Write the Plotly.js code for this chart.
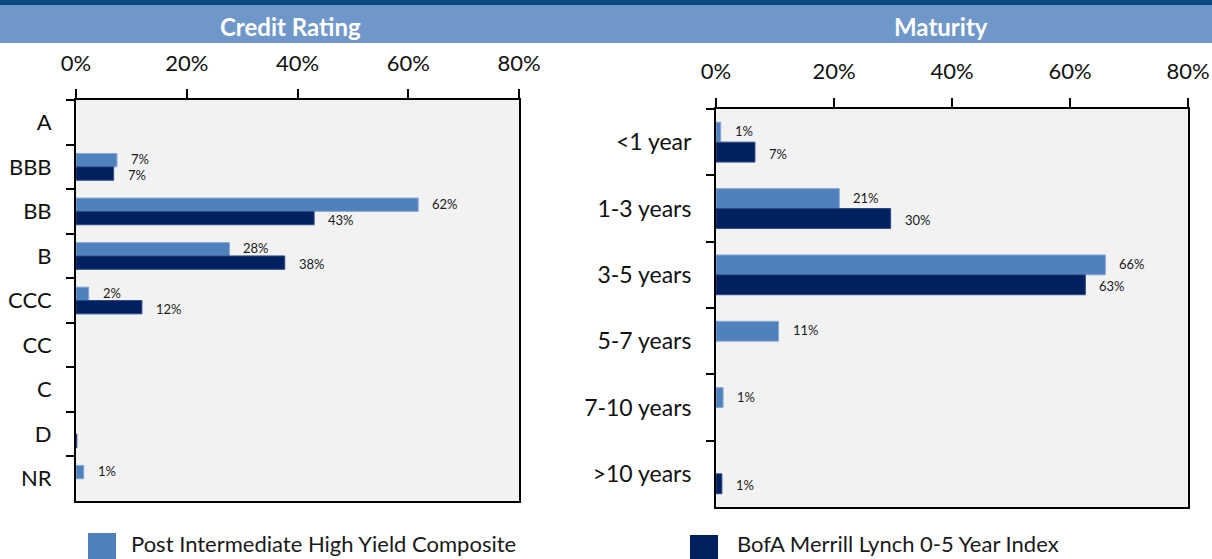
<!DOCTYPE html>
<html>
<head>
<meta charset="utf-8">
<script src="https://cdn.plot.ly/plotly-3.0.1.min.js"></script>
<style>html,body{margin:0;padding:0;background:#fff;}#chart{width:1212px;height:559px;}</style>
</head>
<body>
<div id="chart"></div>
<script>
// ---- Data ----
const ratingCategories = ['A', 'BBB', 'BB', 'B', 'CCC', 'CC', 'C', 'D', 'NR'];
const ratingPost = [null, 7.4, 61.8, 27.7, 2.3, null, null, null, 1.4];
const ratingBofA = [null, 6.8, 43.0, 37.7, 11.9, null, null, 0.15, null];

const maturityCategories = ['<1 year', '1-3 years', '3-5 years', '5-7 years', '7-10 years', '>10 years'];
const maturityPost = [0.8, 20.9, 66.0, 10.6, 1.2, null];
const maturityBofA = [6.6, 29.6, 62.6, null, null, 1.0];

const xTickValues = [0, 20, 40, 60, 80];
const xTickLabels = ['0%', '20%', '40%', '60%', '80%'];

const seriesNames = ['Post Intermediate High Yield Composite', 'BofA Merrill Lynch 0-5 Year Index'];
const panelTitles = ['Credit Rating', 'Maturity'];

// ---- Helpers ----
const LIGHT = '#4f81bd', DARK = '#002060';
const FONT = 'Lato, "Noto Sans", sans-serif';
const W = 1212, H = 559;
const BARGAP = 0.4;
const px = v => v / W;
const py = v => 1 - v / H;

function barTrace(cats, vals, color, lineColor, xa, ya, name) {
  return {
    type: 'bar', orientation: 'h', y: cats, x: vals, name: name,
    xaxis: xa, yaxis: ya,
    marker: {color: color, line: {color: lineColor, width: 1}},
    hoverinfo: 'x+y', showlegend: false
  };
}

// value labels placed next to each bar end (light bar above, dark bar below within a group)
function valueLabels(vals, xa, ya, groupIndex) {
  const half = (1 - BARGAP) / 4; // half of one bar's thickness in category units
  const off = groupIndex === 0 ? -half : half;
  const out = [];
  vals.forEach((v, i) => {
    if (v == null || v < 0.5) return;
    out.push({
      text: Math.round(v) + '%', xref: xa, yref: ya, x: v, y: i + off,
      xanchor: 'left', yanchor: 'middle', xshift: 12, yshift: groupIndex === 0 ? 1 : -1.5,
      showarrow: false, font: {family: FONT, size: 13, color: '#1a1a1a'}
    });
  });
  return out;
}

const data = [
  barTrace(ratingCategories, ratingPost, LIGHT, '#8aaad6', 'x', 'y', seriesNames[0]),
  barTrace(ratingCategories, ratingBofA, DARK, '#2c4a85', 'x', 'y', seriesNames[1]),
  barTrace(maturityCategories, maturityPost, LIGHT, '#8aaad6', 'x2', 'y2', seriesNames[0]),
  barTrace(maturityCategories, maturityBofA, DARK, '#2c4a85', 'x2', 'y2', seriesNames[1])
];

function xAxis(domain, anchor, standoff) {
  return {
    domain: domain, anchor: anchor, side: 'top', range: [0, 80],
    tickvals: xTickValues, ticktext: xTickLabels,
    ticks: 'outside', ticklen: 9, tickwidth: 2, tickcolor: '#000',
    showline: true, linecolor: '#000', linewidth: 2, mirror: true,
    showgrid: false, zeroline: false, fixedrange: true,
    ticklabelstandoff: standoff, ticklabeloverflow: 'allow',
    tickfont: {family: FONT, size: 22, color: '#111'}
  };
}
function yAxis(domain, anchor, standoff, size, cats) {
  return {
    domain: domain, anchor: anchor, type: 'category',
    categoryorder: 'array', categoryarray: cats,
    range: [cats.length - 0.5, -0.5],
    ticks: 'outside', tickson: 'boundaries', ticklen: 8, tickwidth: 2, tickcolor: '#000',
    showline: true, linecolor: '#000', linewidth: 2, mirror: true,
    showgrid: false, zeroline: false, fixedrange: true,
    ticklabelstandoff: standoff,
    tickfont: {family: FONT, size: size, color: '#111'}
  };
}

const annotations = [
  {text: '<b>' + panelTitles[0] + '</b>', xref: 'paper', yref: 'paper', x: px(290), y: py(27), showarrow: false, xanchor: 'center', yanchor: 'middle', font: {family: FONT, size: 24, color: '#ffffff'}},
  {text: '<b>' + panelTitles[1] + '</b>', xref: 'paper', yref: 'paper', x: px(941), y: py(27), showarrow: false, xanchor: 'center', yanchor: 'middle', font: {family: FONT, size: 24, color: '#ffffff'}},
  {text: seriesNames[0], xref: 'paper', yref: 'paper', x: px(129), y: 0, showarrow: false, xanchor: 'left', yanchor: 'bottom', font: {family: FONT, size: 22, color: '#1a1a1a'}},
  {text: seriesNames[1], xref: 'paper', yref: 'paper', x: px(735), y: 0, showarrow: false, xanchor: 'left', yanchor: 'bottom', font: {family: FONT, size: 22, color: '#1a1a1a'}}
].concat(
  valueLabels(ratingPost, 'x', 'y', 0),
  valueLabels(ratingBofA, 'x', 'y', 1),
  valueLabels(maturityPost, 'x2', 'y2', 0),
  valueLabels(maturityBofA, 'x2', 'y2', 1)
);

const layout = {
  width: W, height: H,
  margin: {l: 0, r: 0, t: 0, b: 0},
  paper_bgcolor: '#ffffff', plot_bgcolor: '#f2f2f2',
  barmode: 'group', bargap: BARGAP, bargroupgap: 0,
  showlegend: false,
  font: {family: FONT, color: '#111'},
  xaxis: xAxis([px(76), px(519)], 'y', 9),
  yaxis: yAxis([py(501), py(100)], 'x', 18, 22, ratingCategories),
  xaxis2: xAxis([px(716), px(1188)], 'y2', 10),
  yaxis2: yAxis([py(507), py(109)], 'x2', 18, 23, maturityCategories),
  shapes: [
    {type: 'rect', xref: 'paper', yref: 'paper', x0: 0, x1: 1, y0: py(5), y1: 1, fillcolor: '#0a4a82', line: {width: 0}, layer: 'below'},
    {type: 'rect', xref: 'paper', yref: 'paper', x0: 0, x1: 1, y0: py(43), y1: py(5), fillcolor: '#6f97c9', line: {width: 0}, layer: 'below'},
    {type: 'rect', xref: 'paper', yref: 'paper', x0: px(88), x1: px(116), y0: 0, y1: py(533), fillcolor: LIGHT, line: {width: 0}},
    {type: 'rect', xref: 'paper', yref: 'paper', x0: px(690), x1: px(718), y0: 0, y1: py(535), fillcolor: DARK, line: {width: 0}}
  ],
  annotations: annotations
};

Plotly.newPlot('chart', data, layout, {displayModeBar: false, staticPlot: true});
</script>
</body>
</html>
